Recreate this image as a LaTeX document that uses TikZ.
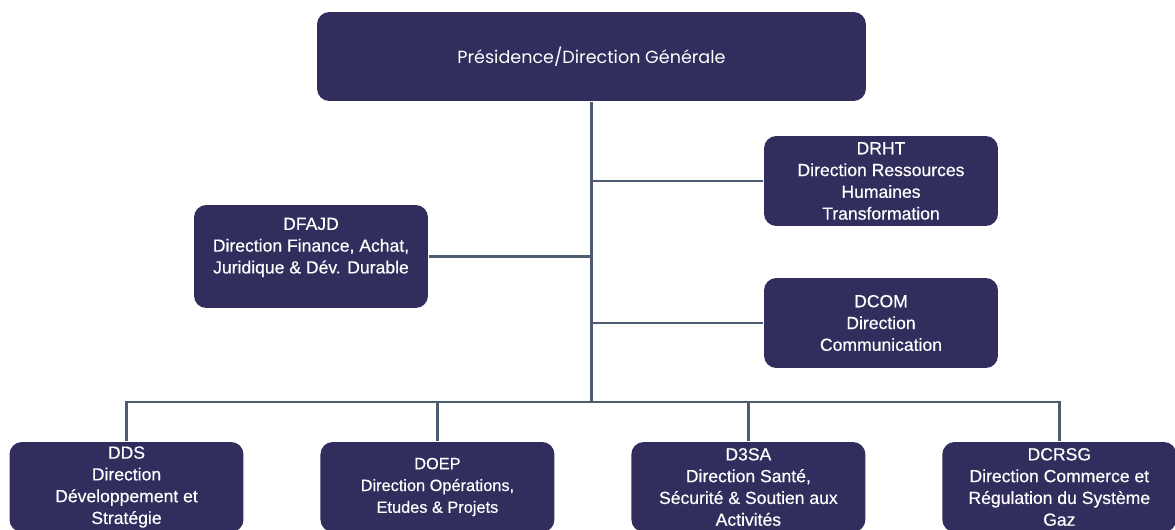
\documentclass[tikz,border=0pt]{standalone}
\usepackage{fontspec}
\setmainfont{Liberation Sans}[FakeBold=0.4]
\newfontfamily\poppins{Poppins}
\usetikzlibrary{positioning}
\definecolor{boxnavy}{HTML}{312E5E}
\definecolor{linkgray}{HTML}{4D5D6F}

\begin{document}
\begin{tikzpicture}[x=0.02cm,y=-0.02cm,-,thick,node distance=6.22cm,
    dir node/.style={fill=boxnavy,rounded corners=7pt,text=white,align=center,
        minimum width=4.68cm,minimum height=1.8cm,inner sep=1pt,
        font=\fontsize{10}{12.4}\selectfont},
    link/.style={draw=linkgray,line width=1.5pt}]

    \useasboundingbox (0,0) rectangle (1175,530);

    \node[dir node, minimum width=10.98cm, minimum height=1.78cm,
        font=\poppins\fontsize{10}{12}\selectfont] (pdg) at (591.5,56.5) {Présidence/Direction Générale};
    \node[dir node] (drht) at (881,181) {DRHT\\Direction Ressources\\Humaines\\Transformation};
    \node[dir node, minimum height=2.06cm] (dfajd) at (311,256.5) {DFAJD\\Direction Finance, Achat,\\Juridique \& Dév. Durable\\~};
    \node[dir node] (dcom) at (881,323) {DCOM\\Direction\\Communication};

    \node[dir node] (dds) at (126.5,487) {DDS\\Direction\\Développement et\\Stratégie};
    \node[dir node, font=\fontsize{9.3}{12.4}\selectfont] (doep) [right of = dds] {DOEP\\Direction Opérations,\\Etudes \& Projets};
    \node[dir node] (d3sa) [right of = doep] {D3SA\\Direction Santé,\\Sécurité \& Soutien aux\\Activités};
    \node[dir node] (dcrsg) [right of = d3sa] {DCRSG\\Direction Commerce et\\Régulation du Système\\Gaz};

    \coordinate (bus) at (591.5,402);

    \draw[link] (pdg) -- (bus);
    \draw[link] (drht.west) -- (drht.west -| pdg.south);
    \draw[link] (dfajd.east) -- (dfajd.east -| pdg.south);
    \draw[link] (dcom.west) -- (dcom.west -| pdg.south);
    \draw[link] (dds.north) |- (bus) -| (dcrsg.north);
    \draw[link] (doep.north) -- (doep.north |- bus);
    \draw[link] (d3sa.north) -- (d3sa.north |- bus);

\end{tikzpicture}
\end{document}
